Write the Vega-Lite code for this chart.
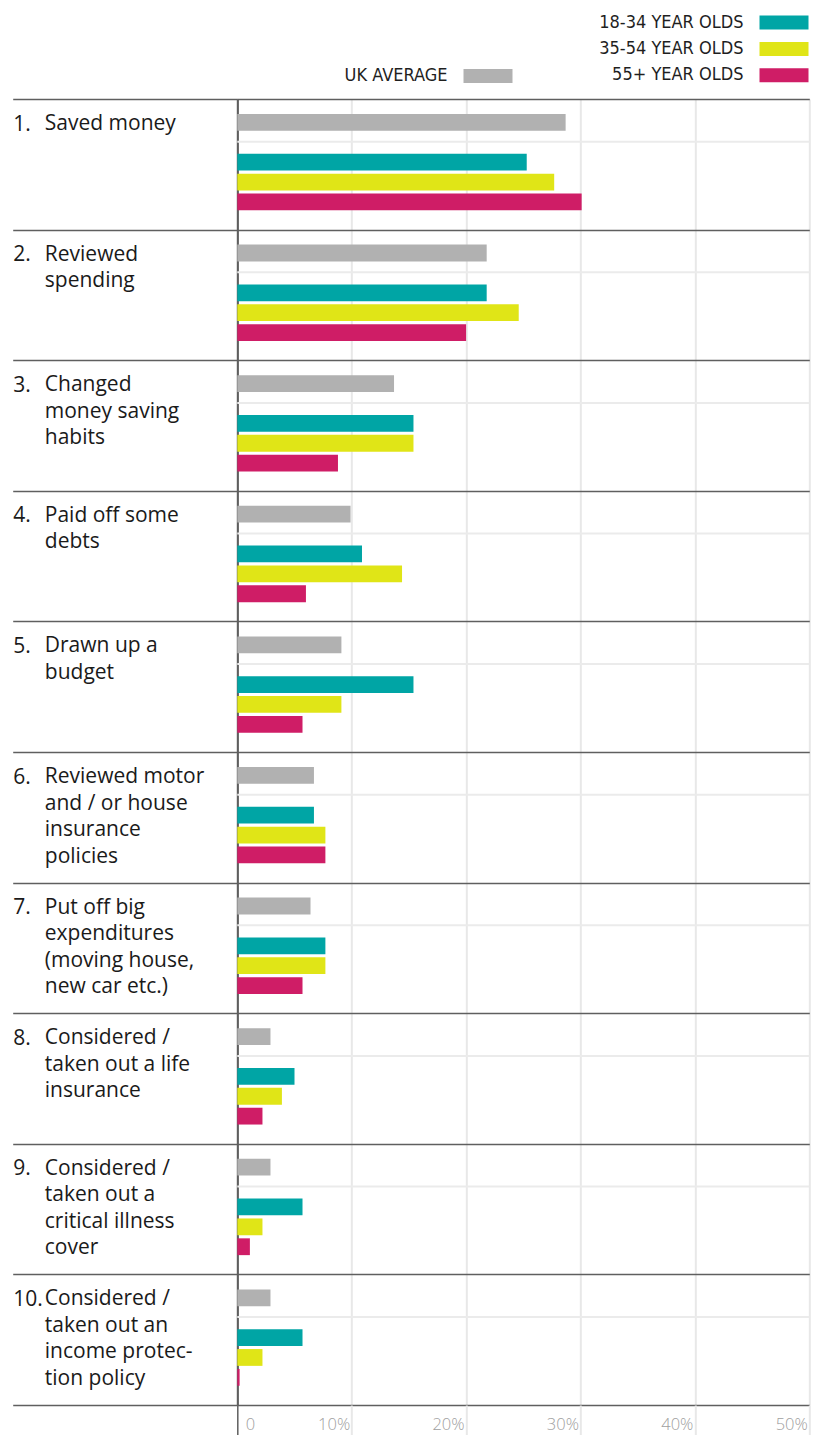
{
  "$schema": "https://vega.github.io/schema/vega-lite/v6.json",
  "width": 572,
  "height": 1306,
  "autosize": {"type": "none"},
  "padding": {"left": 237.3, "top": 99, "right": 9.7, "bottom": 30},
  "background": "white",
  "datasets": {
    "bars": [
      {"rank": 1, "item": "1.|Saved money", "group": "UK AVERAGE", "value": 28.7},
      {"rank": 1, "item": "1.|Saved money", "group": "18-34 YEAR OLDS", "value": 25.3},
      {"rank": 1, "item": "1.|Saved money", "group": "35-54 YEAR OLDS", "value": 27.7},
      {"rank": 1, "item": "1.|Saved money", "group": "55+ YEAR OLDS", "value": 30.1},
      {"rank": 2, "item": "2.|Reviewed|spending", "group": "UK AVERAGE", "value": 21.8},
      {"rank": 2, "item": "2.|Reviewed|spending", "group": "18-34 YEAR OLDS", "value": 21.8},
      {"rank": 2, "item": "2.|Reviewed|spending", "group": "35-54 YEAR OLDS", "value": 24.6},
      {"rank": 2, "item": "2.|Reviewed|spending", "group": "55+ YEAR OLDS", "value": 20.0},
      {"rank": 3, "item": "3.|Changed|money saving|habits", "group": "UK AVERAGE", "value": 13.7},
      {"rank": 3, "item": "3.|Changed|money saving|habits", "group": "18-34 YEAR OLDS", "value": 15.4},
      {"rank": 3, "item": "3.|Changed|money saving|habits", "group": "35-54 YEAR OLDS", "value": 15.4},
      {"rank": 3, "item": "3.|Changed|money saving|habits", "group": "55+ YEAR OLDS", "value": 8.8},
      {"rank": 4, "item": "4.|Paid off some|debts", "group": "UK AVERAGE", "value": 9.9},
      {"rank": 4, "item": "4.|Paid off some|debts", "group": "18-34 YEAR OLDS", "value": 10.9},
      {"rank": 4, "item": "4.|Paid off some|debts", "group": "35-54 YEAR OLDS", "value": 14.4},
      {"rank": 4, "item": "4.|Paid off some|debts", "group": "55+ YEAR OLDS", "value": 6.0},
      {"rank": 5, "item": "5.|Drawn up a|budget", "group": "UK AVERAGE", "value": 9.1},
      {"rank": 5, "item": "5.|Drawn up a|budget", "group": "18-34 YEAR OLDS", "value": 15.4},
      {"rank": 5, "item": "5.|Drawn up a|budget", "group": "35-54 YEAR OLDS", "value": 9.1},
      {"rank": 5, "item": "5.|Drawn up a|budget", "group": "55+ YEAR OLDS", "value": 5.7},
      {"rank": 6, "item": "6.|Reviewed motor|and / or house|insurance|policies", "group": "UK AVERAGE", "value": 6.7},
      {"rank": 6, "item": "6.|Reviewed motor|and / or house|insurance|policies", "group": "18-34 YEAR OLDS", "value": 6.7},
      {"rank": 6, "item": "6.|Reviewed motor|and / or house|insurance|policies", "group": "35-54 YEAR OLDS", "value": 7.7},
      {"rank": 6, "item": "6.|Reviewed motor|and / or house|insurance|policies", "group": "55+ YEAR OLDS", "value": 7.7},
      {"rank": 7, "item": "7.|Put off big|expenditures|(moving house,|new car etc.)", "group": "UK AVERAGE", "value": 6.4},
      {"rank": 7, "item": "7.|Put off big|expenditures|(moving house,|new car etc.)", "group": "18-34 YEAR OLDS", "value": 7.7},
      {"rank": 7, "item": "7.|Put off big|expenditures|(moving house,|new car etc.)", "group": "35-54 YEAR OLDS", "value": 7.7},
      {"rank": 7, "item": "7.|Put off big|expenditures|(moving house,|new car etc.)", "group": "55+ YEAR OLDS", "value": 5.7},
      {"rank": 8, "item": "8.|Considered /|taken out a life|insurance", "group": "UK AVERAGE", "value": 2.9},
      {"rank": 8, "item": "8.|Considered /|taken out a life|insurance", "group": "18-34 YEAR OLDS", "value": 5.0},
      {"rank": 8, "item": "8.|Considered /|taken out a life|insurance", "group": "35-54 YEAR OLDS", "value": 3.9},
      {"rank": 8, "item": "8.|Considered /|taken out a life|insurance", "group": "55+ YEAR OLDS", "value": 2.2},
      {"rank": 9, "item": "9.|Considered /|taken out a|critical illness|cover", "group": "UK AVERAGE", "value": 2.9},
      {"rank": 9, "item": "9.|Considered /|taken out a|critical illness|cover", "group": "18-34 YEAR OLDS", "value": 5.7},
      {"rank": 9, "item": "9.|Considered /|taken out a|critical illness|cover", "group": "35-54 YEAR OLDS", "value": 2.2},
      {"rank": 9, "item": "9.|Considered /|taken out a|critical illness|cover", "group": "55+ YEAR OLDS", "value": 1.1},
      {"rank": 10, "item": "10.|Considered /|taken out an|income protec-|tion policy", "group": "UK AVERAGE", "value": 2.9},
      {"rank": 10, "item": "10.|Considered /|taken out an|income protec-|tion policy", "group": "18-34 YEAR OLDS", "value": 5.7},
      {"rank": 10, "item": "10.|Considered /|taken out an|income protec-|tion policy", "group": "35-54 YEAR OLDS", "value": 2.2},
      {"rank": 10, "item": "10.|Considered /|taken out an|income protec-|tion policy", "group": "55+ YEAR OLDS", "value": 0.2}
    ]
  },
  "data": {"name": "bars"},
  "layer": [
    {
      "transform": [{"filter": "datum.group === 'UK AVERAGE'"}],
      "mark": {"type": "rule", "color": "#ebebeb", "strokeWidth": 2},
      "encoding": {
        "y": {
          "field": "item", "type": "nominal", "bandPosition": 0.327, "axis": null,
          "scale": {"domain": ["1.|Saved money", "2.|Reviewed|spending", "3.|Changed|money saving|habits", "4.|Paid off some|debts", "5.|Drawn up a|budget", "6.|Reviewed motor|and / or house|insurance|policies", "7.|Put off big|expenditures|(moving house,|new car etc.)", "8.|Considered /|taken out a life|insurance", "9.|Considered /|taken out a|critical illness|cover", "10.|Considered /|taken out an|income protec-|tion policy"], "paddingInner": 0, "paddingOuter": 0, "round": false}
        }
      }
    },
    {
      "transform": [{"filter": "datum.group === 'UK AVERAGE'"}],
      "mark": {"type": "bar"},
      "encoding": {
        "x": {
          "field": "value", "type": "quantitative",
          "scale": {"domain": [0, 50], "nice": false},
          "axis": {
            "title": null, "domain": false, "grid": true,
            "values": [0, 10, 20, 30, 40, 50],
            "gridColor": {"condition": {"test": "datum.value === 0", "value": "#5f5f5f"}, "value": "#e8e8e8"},
            "gridWidth": 2,
            "tickColor": {"condition": {"test": "datum.value === 0", "value": "#5f5f5f"}, "value": "#e8e8e8"},
            "tickWidth": {"condition": {"test": "datum.value === 0", "value": 1.5}, "value": 2},
            "tickSize": 30,
            "labelExpr": "datum.value === 0 ? '0' : datum.value + '%'",
            "labelAlign": {"condition": {"test": "datum.value === 0", "value": "left"}, "value": "right"},
            "labelOffset": {"condition": {"test": "datum.value === 0", "value": 8}, "value": -2},
            "labelBaseline": "top",
            "labelPadding": -19,
            "labelFont": "Open Sans", "labelFontSize": 16.5, "labelFontWeight": 300, "labelColor": "#a0a0a0",
            "labelFlush": false, "labelOverlap": false
          }
        },
        "y": {
          "field": "item", "type": "nominal",
          "scale": {"domain": ["1.|Saved money", "2.|Reviewed|spending", "3.|Changed|money saving|habits", "4.|Paid off some|debts", "5.|Drawn up a|budget", "6.|Reviewed motor|and / or house|insurance|policies", "7.|Put off big|expenditures|(moving house,|new car etc.)", "8.|Considered /|taken out a life|insurance", "9.|Considered /|taken out a|critical illness|cover", "10.|Considered /|taken out an|income protec-|tion policy"], "paddingInner": 0, "paddingOuter": 0, "round": false},
          "axis": {
            "title": null, "orient": "left",
            "tickBand": "extent", "ticks": true, "tickSize": 224.6, "tickColor": "#5f5f5f", "tickWidth": 1.5,
            "grid": true, "gridColor": "#5f5f5f", "gridWidth": 1.5,
            "domain": true, "domainColor": "#5f5f5f", "domainWidth": 1.5,
            "labelExpr": "split(datum.label, '|')[0]",
            "labelAlign": "left", "labelBaseline": "alphabetic", "labelPadding": 0, "labelOffset": -34.3,
            "labelFont": "Open Sans", "labelFontSize": 21, "labelColor": "#1a1a1a", "labelLimit": 300, "labelOverlap": false
          }
        },
        "yOffset": {
          "field": "group", "type": "nominal",
          "scale": {"domain": ["UK AVERAGE", " ", "18-34 YEAR OLDS", "35-54 YEAR OLDS", "55+ YEAR OLDS"], "paddingInner": 0.155, "paddingOuter": 0.862, "align": 0.438, "round": false}
        },
        "fill": {
          "field": "group", "type": "nominal",
          "scale": {"domain": ["UK AVERAGE"], "range": ["#b1b1b1"]},
          "legend": {
            "title": null, "orient": "none", "legendX": 241.7, "legendY": -32, "direction": "vertical",
            "symbolType": "M-3.5,-1H3.5V1H-3.5Z", "symbolSize": 196, "symbolStrokeWidth": 0,
            "labelOffset": -49.5, "labelAlign": "right",
            "labelFont": "Liberation Sans Narrow, DejaVu Sans Condensed, sans-serif", "labelFontSize": 18, "labelColor": "#1f1f1f", "labelLimit": 300
          }
        }
      }
    },
    {
      "transform": [{"filter": "datum.group !== 'UK AVERAGE'"}],
      "mark": {"type": "bar"},
      "encoding": {
        "x": {"field": "value", "type": "quantitative"},
        "y": {
          "field": "item", "type": "nominal",
          "scale": {"domain": ["1.|Saved money", "2.|Reviewed|spending", "3.|Changed|money saving|habits", "4.|Paid off some|debts", "5.|Drawn up a|budget", "6.|Reviewed motor|and / or house|insurance|policies", "7.|Put off big|expenditures|(moving house,|new car etc.)", "8.|Considered /|taken out a life|insurance", "9.|Considered /|taken out a|critical illness|cover", "10.|Considered /|taken out an|income protec-|tion policy"], "paddingInner": 0, "paddingOuter": 0, "round": false},
          "axis": {
            "title": null, "orient": "left", "ticks": false, "grid": false, "domain": false,
            "labelExpr": "slice(split(datum.label, '|'), 1)",
            "labelAlign": "left", "labelBaseline": "alphabetic", "labelPadding": 193, "labelOffset": -34.3,
            "labelFont": "Open Sans", "labelFontSize": 21, "labelLineHeight": 26.5, "labelColor": "#1a1a1a", "labelLimit": 300, "labelOverlap": false
          }
        },
        "yOffset": {
          "field": "group", "type": "nominal",
          "scale": {"domain": ["UK AVERAGE", " ", "18-34 YEAR OLDS", "35-54 YEAR OLDS", "55+ YEAR OLDS"], "paddingInner": 0.155, "paddingOuter": 0.862, "align": 0.438, "round": false}
        },
        "color": {
          "field": "group", "type": "nominal",
          "scale": {"domain": ["18-34 YEAR OLDS", "35-54 YEAR OLDS", "55+ YEAR OLDS"], "range": ["#00a5a5", "#e0e517", "#cf1d66"]},
          "legend": {
            "title": null, "orient": "none", "legendX": 537.7, "legendY": -85.5, "direction": "vertical",
            "symbolType": "M-3.5,-1H3.5V1H-3.5Z", "symbolSize": 196, "symbolStrokeWidth": 0,
            "labelOffset": -49.5, "labelAlign": "right", "rowPadding": 8.4,
            "labelFont": "Liberation Sans Narrow, DejaVu Sans Condensed, sans-serif", "labelFontSize": 18, "labelColor": "#1f1f1f", "labelLimit": 300
          }
        }
      }
    }
  ],
  "resolve": {"axis": {"y": "independent"}},
  "config": {
    "view": {"stroke": null},
    "legend": {"padding": 0}
  }
}
